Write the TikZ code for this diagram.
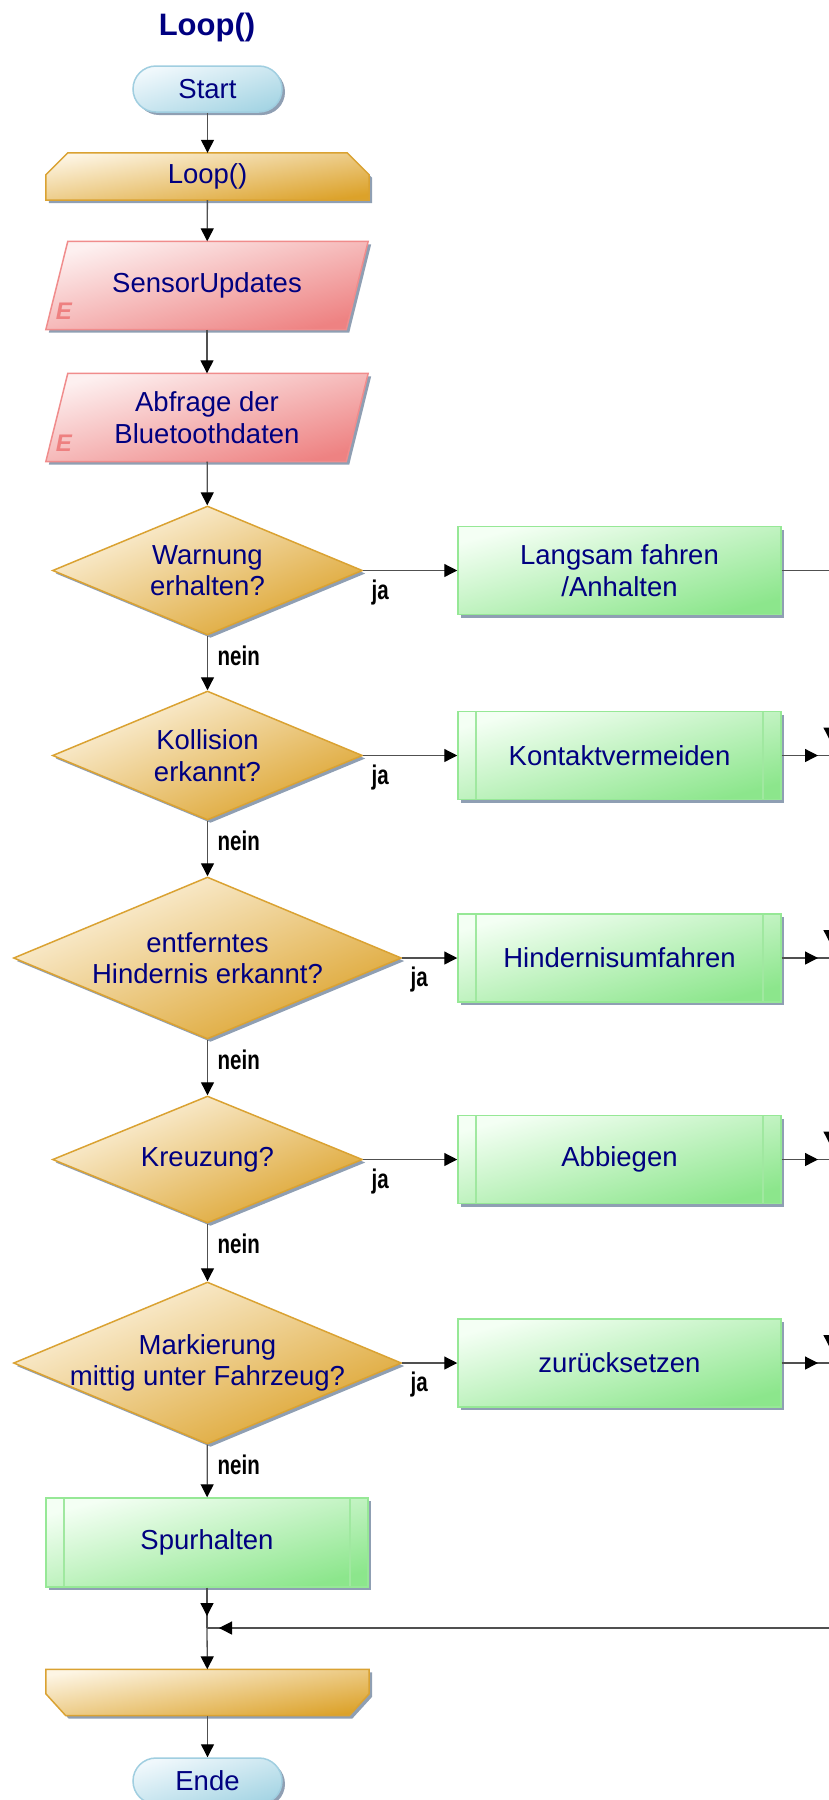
\documentclass[tikz,border=0pt]{standalone}
\usepackage{fontspec}
\setmainfont{Liberation Sans}
\usepackage{graphicx}
\usetikzlibrary{shapes.geometric,shadows,arrows.meta}
\pgfdeclarelayer{bg}
\pgfsetlayers{bg,main}
\definecolor{txtblue}{RGB}{0,0,128}
\definecolor{termT}{RGB}{240,248,252}
\definecolor{termD}{RGB}{166,213,228}
\definecolor{termB}{RGB}{160,206,224}
\definecolor{goldT}{RGB}{253,245,228}
\definecolor{goldD}{RGB}{220,162,42}
\definecolor{goldB}{RGB}{218,162,50}
\definecolor{redT}{RGB}{253,240,240}
\definecolor{redD}{RGB}{238,130,130}
\definecolor{redB}{RGB}{240,140,140}
\definecolor{redE}{RGB}{238,128,128}
\definecolor{greenT}{RGB}{244,255,244}
\definecolor{greenD}{RGB}{140,230,140}
\definecolor{greenB}{RGB}{150,232,150}
\definecolor{greenL}{RGB}{160,232,160}
\definecolor{shadowc}{RGB}{115,135,160}
\definecolor{linec}{RGB}{80,80,80}
\begin{document}
\begin{tikzpicture}[x=1pt,y=-1pt,
  shdw/.style={drop shadow={shadow xshift=3pt,shadow yshift=-3pt,fill=shadowc,opacity=.8}},
  txt/.style={text=txtblue,font=\fontsize{27.5}{31.5}\selectfont,align=center,inner sep=0pt},
  term/.style={txt,rectangle,rounded corners=23pt,minimum width=149pt,minimum height=46pt,
    draw=termB,line width=1.5pt,top color=termT,bottom color=termD,shading angle=17,shdw},
  proc/.style={txt,rectangle,minimum width=323pt,minimum height=88pt,
    draw=greenB,line width=1.5pt,top color=greenT,bottom color=greenD,shading angle=15,shdw},
  subproc/.style={proc,path picture={
    \draw[greenL,line width=1.5pt]
      ([xshift=18pt]path picture bounding box.north west) -- ([xshift=18pt]path picture bounding box.south west)
      ([xshift=-18pt]path picture bounding box.north east) -- ([xshift=-18pt]path picture bounding box.south east);}},
  dec/.style={diamond,inner sep=0pt,draw=goldB,line width=1.5pt,
    top color=goldT,bottom color=goldD,shading angle=22.6,shdw},
  boxn/.style={txt,rectangle},
  pshape/.style={draw=redB,line width=1.5pt,top color=redT,bottom color=redD,shading angle=15,shdw},
  gshape/.style={draw=goldB,line width=1.5pt,top color=goldT,bottom color=goldD,shading angle=9,shdw},
  emark/.style={text=redE,font=\bfseries\itshape\fontsize{24}{24}\selectfont,inner sep=0pt},
  lab/.style={text=black,font=\bfseries\fontsize{27}{30}\selectfont,inner sep=0pt},
  line/.style={draw=linec,line width=1.3pt},
  arr/.style={line,-{Triangle[length=13pt,width=13pt,color=black]}}
]
\useasboundingbox (0,0) rectangle (828,1800);

% title
\node[txt,font=\bfseries\fontsize{31}{36}\selectfont] (title) at (207,27) {Loop()};

\node[term] (start) at (207.5,89) {Start};
\node[boxn,minimum width=323pt,minimum height=47pt] (ls) at (207.5,176.5) {Loop()};
\node[boxn,minimum width=322pt,minimum height=88pt] (s1) at (207,285.5) {SensorUpdates};
\node[boxn,minimum width=322pt,minimum height=88pt] (s2) at (207,417.5) {Abfrage der\\Bluetoothdaten};
\node[emark] (e1) at ([xshift=18pt,yshift=18pt]s1.south west) {E};
\node[emark] (e2) at ([xshift=18pt,yshift=18pt]s2.south west) {E};

\node[dec,minimum width=310pt,minimum height=129pt] (d1) at (207.5,570.5) {};
\node[txt] (t1) at (d1) {Warnung\\erhalten?};
\node[proc] (b1) at (619.5,570.5) {Langsam fahren\\/Anhalten};

\node[dec,minimum width=310pt,minimum height=129pt] (d2) at (207.5,755.5) {};
\node[txt] (t2) at (d2) {Kollision\\erkannt?};
\node[subproc] (b2) at (619.5,755.5) {Kontaktvermeiden};

\node[dec,minimum width=388pt,minimum height=162pt] (d3) at (207.5,958) {};
\node[txt] (t3) at (d3) {entferntes\\Hindernis erkannt?};
\node[subproc] (b3) at (619.5,958) {Hindernisumfahren};

\node[dec,minimum width=310pt,minimum height=127pt] (d4) at (207.5,1159.5) {};
\node[txt] (t4) at (d4) {Kreuzung?};
\node[subproc] (b4) at (619.5,1159.5) {Abbiegen};

\node[dec,minimum width=388pt,minimum height=162pt] (d5) at (207.5,1363) {};
\node[txt] (t5) at (d5) {Markierung\\mittig unter Fahrzeug?};
\node[proc] (b5) at (619.5,1363) {zurücksetzen};

\node[subproc,minimum width=322pt,minimum height=89pt] (spur) at (207,1542.5) {Spurhalten};
\coordinate (jn) at (207,1628);
\node[boxn,minimum width=323pt,minimum height=46pt] (le) at (207.5,1692.5) {};
\node[term] (ende) at (207.5,1781) {Ende};

% background shapes
\begin{pgfonlayer}{bg}
\path[gshape] ([xshift=22pt]ls.north west) -- ([xshift=-22pt]ls.north east) -- ([yshift=-22pt]ls.north east)
  -- (ls.south east) -- (ls.south west) -- ([yshift=-22pt]ls.north west) -- cycle;
\path[pshape] ([xshift=22pt]s1.north west) -- (s1.north east) -- ([xshift=-22pt]s1.south east) -- (s1.south west) -- cycle;
\path[pshape] ([xshift=22pt]s2.north west) -- (s2.north east) -- ([xshift=-22pt]s2.south east) -- (s2.south west) -- cycle;
\path[gshape] (le.north west) -- (le.north east) -- ([yshift=22pt]le.south east) -- ([xshift=-20pt]le.south east)
  -- ([xshift=20pt]le.south west) -- ([yshift=22pt]le.south west) -- cycle;
\end{pgfonlayer}

% labels
\foreach \d in {d1,d2,d3,d4,d5}{
  \node[lab] at ([xshift=17pt,yshift=-22pt]\d.east) {\scalebox{0.76}[1]{ja}};
  \node[lab,anchor=west] at ([xshift=10pt,yshift=-20pt]\d.south) {\scalebox{0.76}[1]{nein}};
}

% main column
\draw[arr] (start) -- (ls);
\draw[arr] (ls) -- (s1);
\draw[arr] (s1) -- (s2);
\draw[arr] (s2) -- (d1);
\draw[arr] (d1) -- (d2);
\draw[arr] (d2) -- (d3);
\draw[arr] (d3) -- (d4);
\draw[arr] (d4) -- (d5);
\draw[arr] (d5) -- (spur);
\draw[line] (spur) -- (jn);
\draw[arr] (spur) -- ([yshift=12pt]jn);
\draw[arr] (jn) -- (le);
\draw[arr] (le) -- (ende);

% ja branches
\draw[arr] (d1) -- (b1);
\draw[arr] (d2) -- (b2);
\draw[arr] (d3) -- (b3);
\draw[arr] (d4) -- (b4);
\draw[arr] (d5) -- (b5);

% right collector line (mostly beyond the page edge)
\coordinate (r1) at (830,570.5);
\coordinate (r2) at (830,755.5);
\coordinate (r3) at (830,958);
\coordinate (r4) at (830,1159.5);
\coordinate (r5) at (830,1363);
\coordinate (rb) at (830,1628);
\draw[line] (b1) -- (r1) -- (rb) -- (jn);
\draw[arr] (rb) -- ([xshift=12pt]jn);
\draw[line] (b2) -- (r2);
\draw[line] (b3) -- (r3);
\draw[line] (b4) -- (r4);
\draw[line] (b5) -- (r5);
\draw[arr] (b2) -- ([xshift=-12pt]r2);
\draw[arr] (b3) -- ([xshift=-12pt]r3);
\draw[arr] (b4) -- ([xshift=-12pt]r4);
\draw[arr] (b5) -- ([xshift=-12pt]r5);
\draw[arr] (r1) -- ([yshift=15pt]r2);
\draw[arr] (r2) -- ([yshift=15pt]r3);
\draw[arr] (r3) -- ([yshift=15pt]r4);
\draw[arr] (r4) -- ([yshift=15pt]r5);
\end{tikzpicture}
\end{document}
